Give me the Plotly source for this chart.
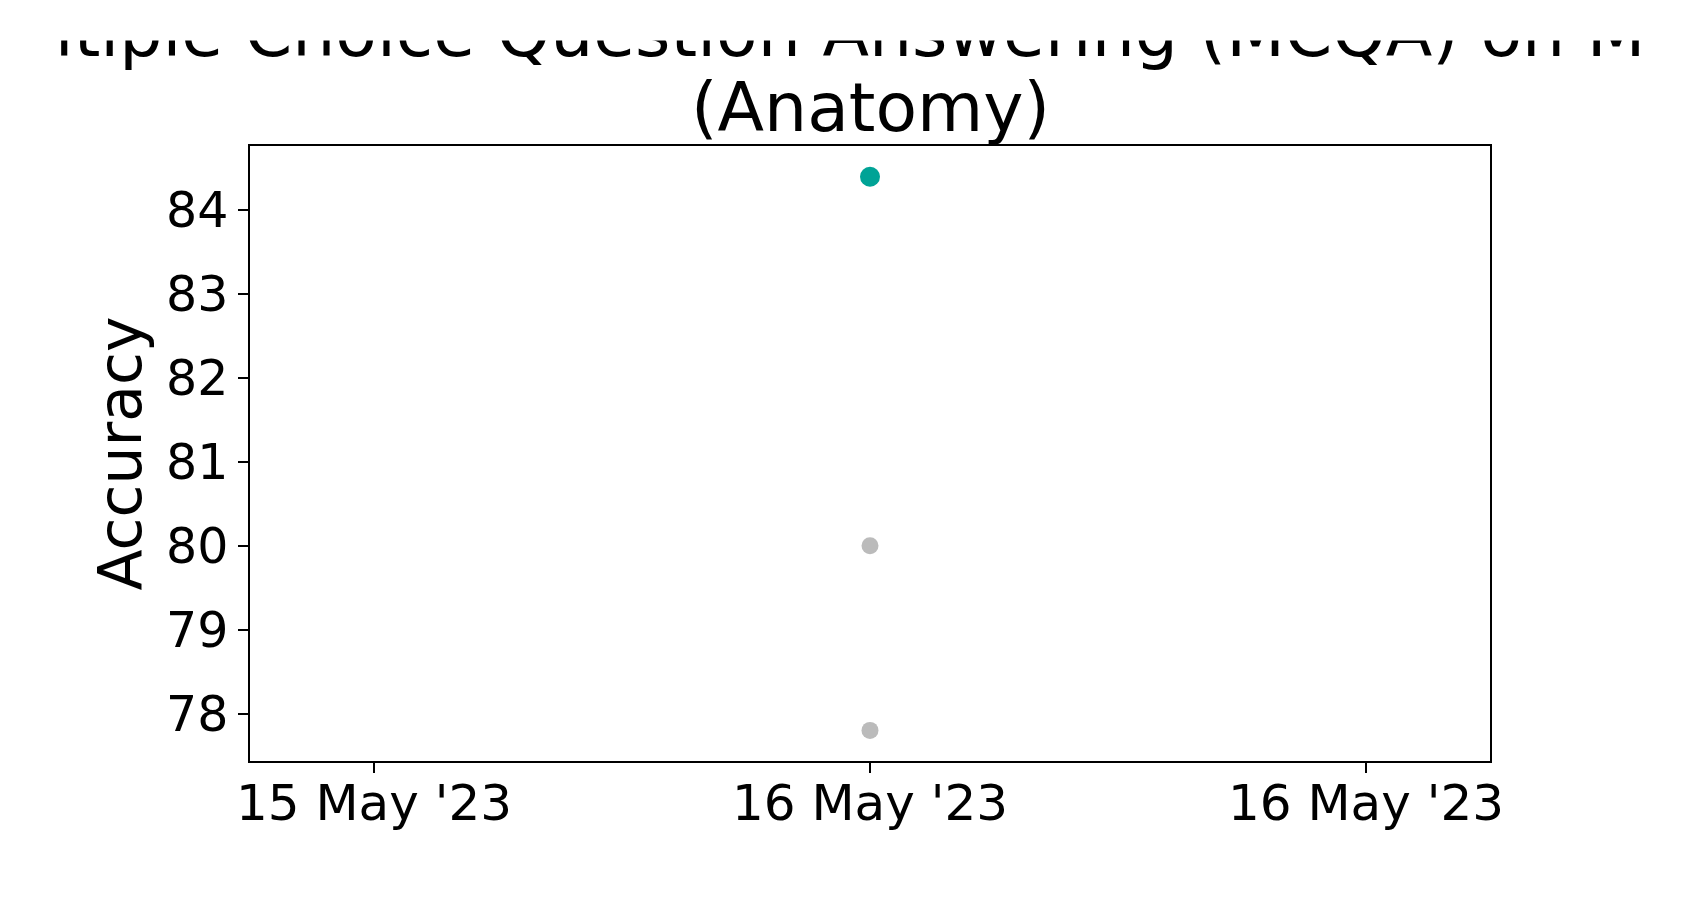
import plotly.graph_objects as go

# data
dates = ["2023-05-16 00:00", "2023-05-16 00:00", "2023-05-16 00:00"]
accuracy = [77.8, 80.0, 84.4]
colors = ["#bbbbbb", "#bbbbbb", "#00a396"]
sizes = [17, 17, 20]

title_line1 = "Multiple Choice Question Answering (MCQA) on MMLU"
title_line2 = "(Anatomy)"
y_label = "Accuracy"
y_ticks = [78, 79, 80, 81, 82, 83, 84]
x_ticks = ["2023-05-15 14:00", "2023-05-16 00:00", "2023-05-16 10:00"]

FONT = "DejaVu Sans"


def white_box(x, y, w, h):
    # blank box used to mimic the clipped title of the reference
    return dict(text=" ", xref="paper", yref="paper", x=x, y=y,
                xanchor="center", yanchor="middle", showarrow=False,
                width=w, height=h, borderpad=0, bgcolor="white",
                font=dict(family=FONT, size=2, color="white"))


trace = go.Scatter(
    x=dates, y=accuracy, mode="markers",
    marker=dict(color=colors, size=sizes, opacity=1, line=dict(width=0)),
    showlegend=False,
)

annotations = [
    dict(text=title_line1, xref="paper", yref="paper", x=0.5, y=1.1846,
         xanchor="center", yanchor="middle", showarrow=False,
         font=dict(family=FONT, size=68, color="black")),
    dict(text=title_line2, xref="paper", yref="paper", x=0.5, y=1.0626,
         xanchor="center", yanchor="middle", showarrow=False,
         font=dict(family=FONT, size=68, color="black")),
    white_box(0.5, 1.2369, 2400, 80),
    white_box(-0.3629, 1.196, 500, 150),
    white_box(1.3306, 1.196, 500, 150),
]

axis_common = dict(
    showline=True, linecolor="black", linewidth=1.6, mirror=True,
    showgrid=False, zeroline=False,
    ticks="outside", ticklen=10, tickwidth=1.6, tickcolor="black",
)

layout = go.Layout(
    width=1700, height=900,
    margin=dict(l=242, r=218, t=138, b=147),
    paper_bgcolor="white", plot_bgcolor="white",
    font=dict(family=FONT, color="black"),
    xaxis=dict(type="date", range=["2023-05-15 11:30", "2023-05-16 12:30"],
               tickvals=x_ticks, tickformat="%d %b '%y", ticklabelstandoff=-13,
               tickfont=dict(family=FONT, size=50, color="black"),
               **axis_common),
    yaxis=dict(range=[77.435, 84.766], tickvals=y_ticks,
               tickfont=dict(family=FONT, size=49, color="black"),
               title=dict(text=y_label, font=dict(family=FONT, size=60, color="black"),
                          standoff=5),
               **axis_common),
    annotations=annotations,
)

fig = go.Figure(data=[trace], layout=layout)
fig.write_html("out.html")
